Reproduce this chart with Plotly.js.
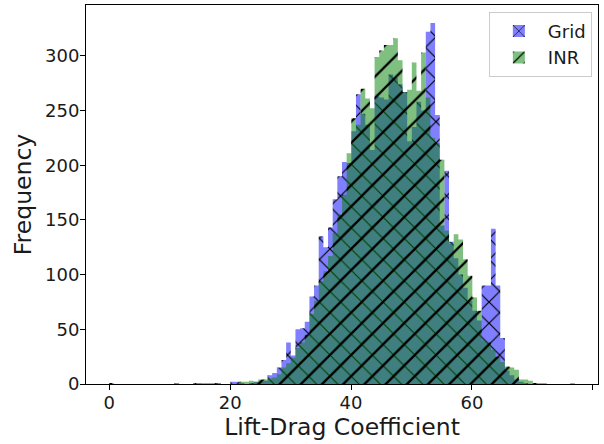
<!DOCTYPE html>
<html>
<head>
<meta charset="utf-8">
<script src="https://cdn.plot.ly/plotly-3.0.1.min.js"></script>
<style>
  html, body { margin: 0; padding: 0; background: #fff; }
  #chart { width: 604px; height: 444px; }
</style>
</head>
<body>
<div id="chart"></div>
<script>
// Histogram bins shared by both series: 100 equal bins over [0, 77]
const binStart = 0;
const binEnd = 77;
const binCount = 100;

// Counts per bin, Grid solver
const gridCounts = [
  0, 0, 0, 0, 0, 0, 0, 0, 0, 0,
  0, 0, 0, 0, 1, 0, 0, 0, 1, 1,
  0, 0, 0, 1, 0, 0, 2, 2, 1, 0,
  1, 2, 2, 3, 8, 10, 15, 22, 38, 26,
  50, 51, 57, 80, 90, 135, 125, 143, 169, 190,
  203, 202, 231, 265, 247, 237, 214, 263, 262, 260,
  283, 280, 274, 267, 222, 235, 258, 250, 322, 330,
  246, 145, 195, 130, 115, 100, 88, 76, 67, 58,
  90, 90, 142, 90, 42, 12, 8, 4, 2, 1,
  0, 0, 0, 0, 0, 0, 0, 0, 0, 0
];

// Counts per bin, INR model
const inrCounts = [
  1, 0, 0, 0, 0, 0, 0, 0, 0, 0,
  0, 0, 0, 0, 0, 0, 0, 0, 0, 0,
  1, 1, 1, 0, 0, 0, 0, 0, 2, 2,
  3, 2, 4, 4, 5, 6, 9, 15, 19, 24,
  33, 38, 45, 64, 76, 94, 103, 117, 138, 155,
  173, 211, 243, 237, 270, 261, 252, 299, 305, 310,
  310, 316, 296, 267, 269, 294, 268, 303, 262, 225,
  220, 205, 140, 128, 137, 132, 114, 99, 79, 67,
  40, 38, 31, 25, 20, 16, 15, 13, 4, 4,
  3, 1, 1, 1, 0, 0, 0, 0, 0, 1
];

const seriesNames = ['Grid', 'INR'];
const seriesFills = ['rgba(0,0,255,0.5)', 'rgba(0,128,0,0.5)'];
const seriesHatches = ['x', '/'];
const xTicks = [0, 20, 40, 60, 80];
const yTicks = [0, 50, 100, 150, 200, 250, 300];

const binWidth = (binEnd - binStart) / binCount;
const binEdges = [];
for (let i = 0; i <= binCount; i++) binEdges.push(binStart + i * binWidth);

const font = 'DejaVu Sans, sans-serif';
const ink = '#1a1a1a';

function hatch(fill, shape) {
  return {
    shape: shape,
    fillmode: 'overlay',
    bgcolor: fill,
    fgcolor: '#000000',
    fgopacity: 1,
    size: 15,
    solidity: 0.15
  };
}

// Step-filled histogram outline: one level per bin, closed down to zero
function stepHist(name, counts, fill, shape) {
  return {
    type: 'scatter',
    mode: 'lines',
    name: name,
    x: binEdges,
    y: counts.concat([counts[counts.length - 1]]),
    line: { shape: 'hv', width: 0, color: fill },
    fill: 'tozeroy',
    fillcolor: fill,
    fillpattern: hatch(fill, shape),
    showlegend: false,
    hoverinfo: 'skip'
  };
}

// Legend entries carrying the same fill and hatch
function legendEntry(name, fill, shape) {
  return {
    type: 'bar',
    name: name,
    x: [null],
    y: [null],
    marker: { color: fill, line: { width: 0 }, pattern: hatch(fill, shape) },
    hoverinfo: 'skip'
  };
}

const data = [
  stepHist(seriesNames[0], gridCounts, seriesFills[0], seriesHatches[0]),
  stepHist(seriesNames[1], inrCounts, seriesFills[1], seriesHatches[1]),
  legendEntry(seriesNames[0], seriesFills[0], seriesHatches[0]),
  legendEntry(seriesNames[1], seriesFills[1], seriesHatches[1])
];

const axisBase = {
  showgrid: false,
  zeroline: false,
  showline: true,
  mirror: true,
  linecolor: '#000',
  linewidth: 1,
  ticks: 'outside',
  ticklen: 5,
  tickwidth: 1,
  tickcolor: '#000',
  ticklabelstandoff: -3,
  tickfont: { family: font, size: 18, color: ink }
};

const maxCount = Math.max(...gridCounts, ...inrCounts);

const layout = {
  width: 604,
  height: 444,
  margin: { l: 86, r: 6, t: 5, b: 60 },
  paper_bgcolor: '#fff',
  plot_bgcolor: '#fff',
  barmode: 'overlay',
  bargap: 0,
  showlegend: true,
  legend: {
    x: 0.988, y: 0.982, xanchor: 'right', yanchor: 'top',
    bgcolor: 'rgba(255,255,255,0.8)',
    bordercolor: '#cccccc', borderwidth: 1,
    itemwidth: 48,
    font: { family: font, size: 18, color: ink }
  },
  xaxis: Object.assign({}, axisBase, {
    range: [binStart - 0.05 * (binEnd - binStart), binEnd + 0.05 * (binEnd - binStart)],
    tickmode: 'array',
    tickvals: xTicks,
    title: { text: 'Lift-Drag Coefficient', font: { family: font, size: 23.5, color: ink }, standoff: 4 }
  }),
  yaxis: Object.assign({}, axisBase, {
    range: [0, maxCount * 1.05],
    tickmode: 'array',
    tickvals: yTicks,
    title: { text: 'Frequency', font: { family: font, size: 23.5, color: ink }, standoff: 6 }
  })
};

Plotly.newPlot('chart', data, layout, { displayModeBar: false, staticPlot: true });
</script>
</body>
</html>
